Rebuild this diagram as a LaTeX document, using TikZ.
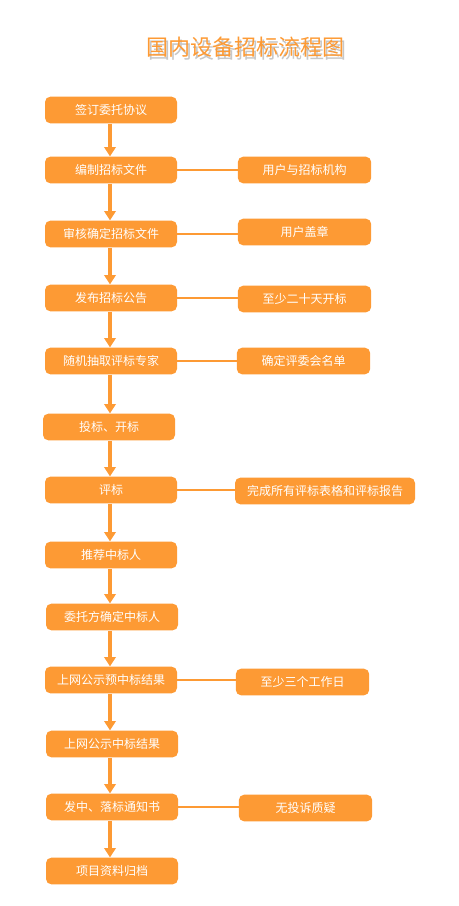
\documentclass[tikz,border=0pt]{standalone}
\usepackage{fontspec}
\setmainfont{Noto Sans CJK SC}
\usetikzlibrary{arrows.meta}
\definecolor{flowor}{RGB}{253,154,52}
\tikzset{
  stepbox/.style={fill=flowor, rounded corners=4pt, minimum width=99pt, minimum height=20pt, inner sep=0pt, text=white, font=\fontsize{9}{11}\selectfont},
  notebox/.style={stepbox, minimum width=100pt},
  flowarrow/.style={draw=flowor, line width=3pt, -{Triangle[width=8.5pt,length=7pt]}},
  noteline/.style={draw=flowor, line width=2pt},
}
\begin{document}
\begin{tikzpicture}[x=0.75pt,y=0.75pt,yscale=-1,xscale=1]
\useasboundingbox (0,0) rectangle (459,906);

% Title
\node (title) [text=flowor, font=\fontsize{16.5}{18}\selectfont] at (245,47)
  {\rlap{\raisebox{-2.4pt}[0pt][0pt]{\hspace{2pt}\textcolor{black!22}{国内设备招标流程图}}}国内设备招标流程图};

% Steps
\node (sign)    [stepbox] at (111,110) {签订委托协议};
\node (draft)   [stepbox] at (111,170) {编制招标文件};
\node (check)   [stepbox] at (111,234) {审核确定招标文件};
\node (notice)  [stepbox] at (111,298) {发布招标公告};
\node (expert)  [stepbox] at (111,361) {随机抽取评标专家};
\node (open)    [stepbox] at (109,427) {投标、开标};
\node (judge)   [stepbox] at (111,490) {评标};
\node (propose) [stepbox] at (111,555) {推荐中标人};
\node (confirm) [stepbox] at (112,617) {委托方确定中标人};
\node (prepub)  [stepbox] at (111,680) {上网公示预中标结果};
\node (pub)     [stepbox] at (112,744) {上网公示中标结果};
\node (letter)  [stepbox] at (112,807) {发中、落标通知书};
\node (archive) [stepbox] at (112,871) {项目资料归档};

% Notes
\node (who)     [notebox] at (304.5,170) {用户与招标机构};
\node (stamp)   [notebox] at (304.5,232) {用户盖章};
\node (days)    [notebox] at (304.5,299) {至少二十天开标};
\node (panel)   [notebox] at (303.5,361) {确定评委会名单};
\node (report)  [notebox, minimum width=135pt] at (325,491) {完成所有评标表格和评标报告};
\node (workday) [notebox] at (302.5,682) {至少三个工作日};
\node (noobj)   [notebox] at (305.5,808) {无投诉质疑};

% Arrows
\foreach \a/\b in {sign/draft,draft/check,check/notice,notice/expert,expert/open,open/judge,judge/propose,propose/confirm,confirm/prepub,prepub/pub,pub/letter,letter/archive}
  \draw [flowarrow] (\a.south -| 110,0) -- (\b.north -| 110,0);

% Note lines
\foreach \a/\b in {draft/who,check/stamp,notice/days,expert/panel,judge/report,prepub/workday,letter/noobj}
  \draw [noteline] (\a.east) -- (\a.east -| \b.west);
\end{tikzpicture}
\end{document}
